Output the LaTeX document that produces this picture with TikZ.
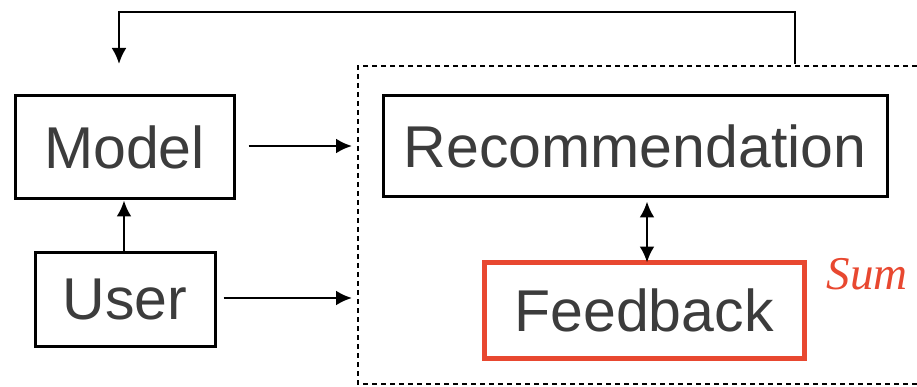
\documentclass[tikz,border=0pt]{standalone}
\usepackage{fontspec}
\setmainfont{Liberation Sans}
\newfontfamily\sumfont{Liberation Serif}
\usetikzlibrary{arrows.meta}
\definecolor{txtgray}{RGB}{60,60,60}
\definecolor{sumred}{RGB}{232,72,48}
\begin{document}
\begin{tikzpicture}[x=1pt,y=-1pt,
  boxstyle/.style={draw=black,line width=3pt,inner sep=0pt,text=txtgray,font=\fontsize{59}{66}\selectfont},
  arr/.style={line width=2.6pt,-{Latex[length=16pt,width=15pt]}},
  darr/.style={line width=2.6pt,{Latex[length=16pt,width=15pt]}-{Latex[length=16pt,width=15pt]}}]
\useasboundingbox (0,0) rectangle (917,387);
\node[boxstyle,minimum width=219pt,minimum height=103pt] (model) at (124.5,147.5) {Model};
\node[boxstyle,minimum width=180pt,minimum height=94pt] (user) at (125,299) {User};
\node[boxstyle,minimum width=504pt,minimum height=101pt] (rec) at (635,146.5) {Recommendation};
\node[boxstyle,draw=sumred,line width=5pt,minimum width=320pt,minimum height=96pt] (fb) at (644,310) {Feedback};
\node[text=sumred,font=\fontsize{47}{50}\selectfont\sumfont\itshape] (sum) at (867,274) {Sum};
\draw[line width=2.6pt,dash pattern=on 5pt off 4pt] (917,66) -- (358,66) -- (358,384) -- (917,384);
\coordinate (boxl1) at (352,146);
\coordinate (boxl2) at (352,298);
\coordinate (topc) at (795,64);
\coordinate (modtop) at (119,64);
\draw[arr] (model.east |- 0,146) ++(13,0) -- (boxl1);
\draw[arr] (user.east |- 0,298) ++(7,0) -- (boxl2);
\draw[arr] (user.north -| 124,0) -- (model.south -| 124,0);
\draw[darr] (rec.south -| 647,0) ++(0,3) -- ([yshift=-3pt]fb.north -| 647,0);
\draw[line width=2.6pt] (topc) -- (795,12) -- (119,12) -- (119,30);
\draw[arr] (119,11) -- (modtop);
\end{tikzpicture}
\end{document}
